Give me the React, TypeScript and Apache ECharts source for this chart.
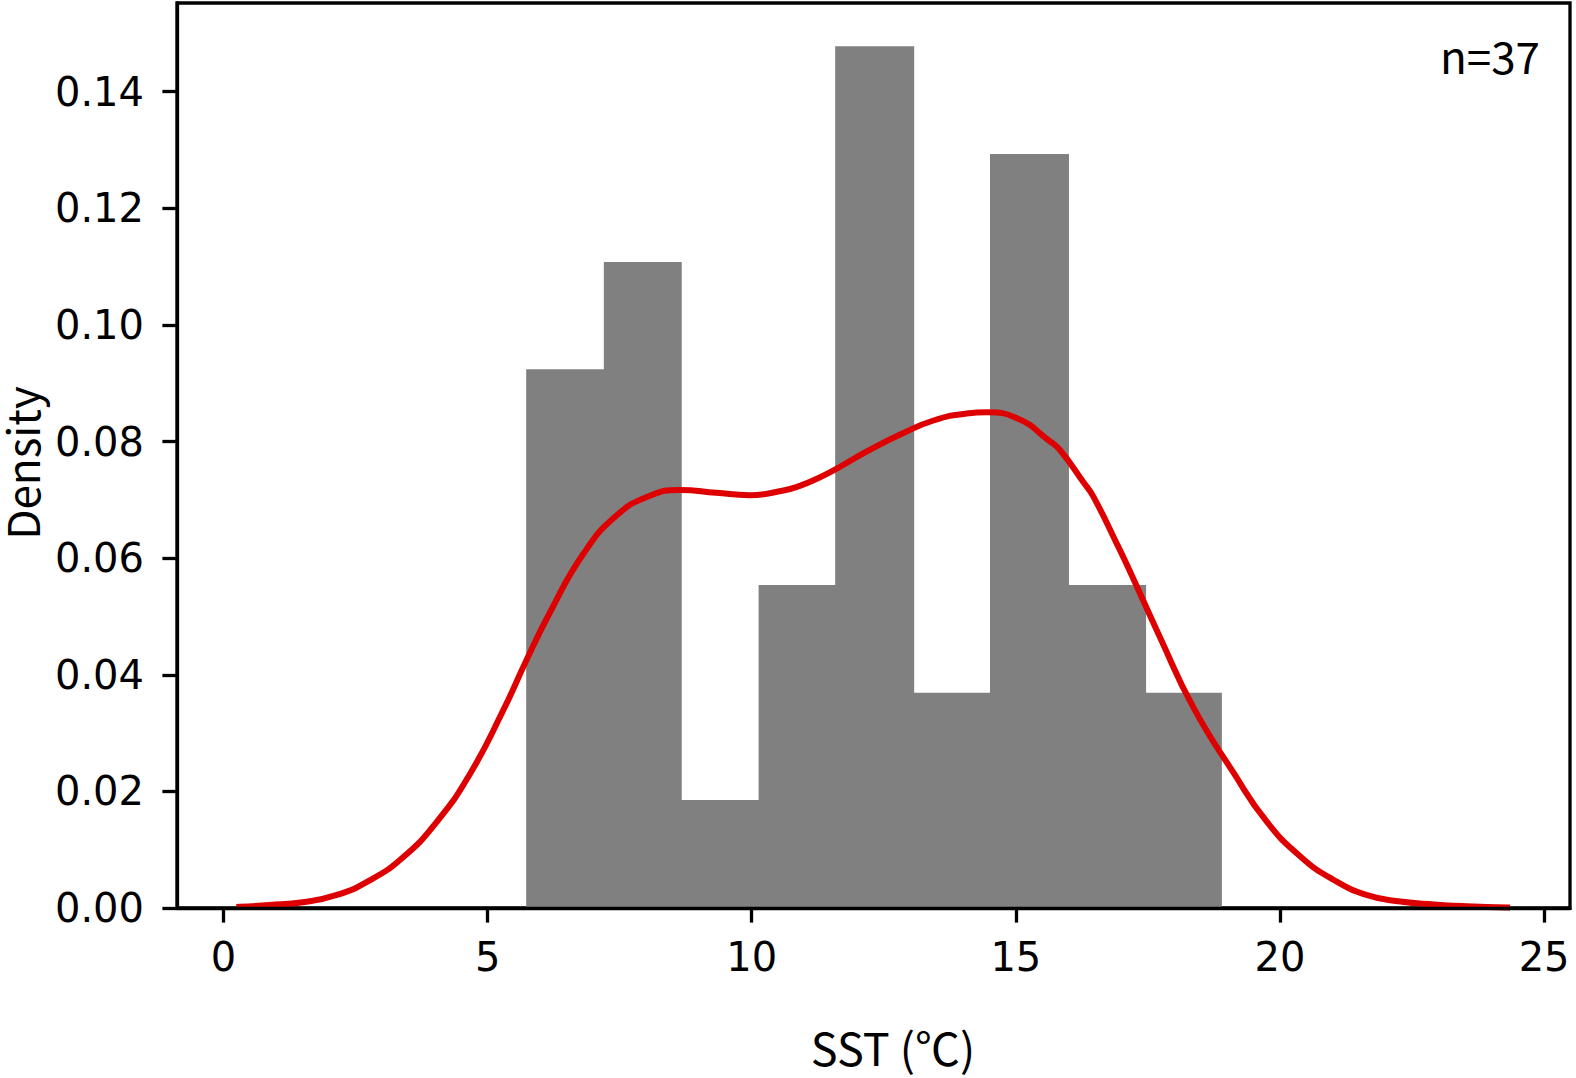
import React, { useEffect, useRef } from "react";
import * as echarts from "echarts";

// Histogram bin edges (SST, °C) and bar heights (density)
const binEdges = [5.73, 7.2, 8.66, 10.13, 11.58, 13.06, 14.51, 15.99, 17.45, 18.9];
const binDensity = [0.0924, 0.1108, 0.0185, 0.0554, 0.1478, 0.0369, 0.1293, 0.0554, 0.0369];

// KDE curve
const kdeX = [
  0.3, 0.87, 1.5, 2.13, 2.76, 3.4, 4.03, 4.66, 5.29, 5.73, 6.17, 6.81, 7.44, 8.07, 8.64,
  9.33, 9.96, 10.6, 10.91, 11.23, 11.54, 12.18, 12.81, 13.44, 14.07, 14.45, 15.02, 15.65,
  15.84, 16.28, 16.47, 16.91, 17.1, 17.73, 18.36, 19.12, 19.75, 20.39, 21.02, 21.65, 22.28,
  22.91, 23.54, 24.3,
];
const kdeY = [
  0.0002, 0.0005, 0.001, 0.0022, 0.0047, 0.0087, 0.0147, 0.0229, 0.0338, 0.0424, 0.0505,
  0.0607, 0.0673, 0.0707, 0.0717, 0.0712, 0.0708, 0.0716, 0.0724, 0.0736, 0.075, 0.0783,
  0.0812, 0.0836, 0.0848, 0.085, 0.084, 0.08, 0.0785, 0.073, 0.0705, 0.0625, 0.0589, 0.0464,
  0.0344, 0.0232, 0.0148, 0.0088, 0.0048, 0.0022, 0.0011, 0.0006, 0.0003, 0.0001,
];

const xTicks = [0, 5, 10, 15, 20, 25];
const yTicks = [0, 0.02, 0.04, 0.06, 0.08, 0.1, 0.12, 0.14];

const xLabel = "SST (℃)";
const yLabel = "Density";
const nLabel = "n=37";

const LABEL_FONT = "'Noto Sans CJK SC', 'Noto Sans', sans-serif";
const TICK_FONT = "'DejaVu Sans', sans-serif";

export default function App() {
  const ref = useRef<HTMLDivElement>(null);

  useEffect(() => {
    document.body.style.margin = "0";
    if (!ref.current) return;
    const chart = echarts.init(ref.current, null, { renderer: "svg" });

    const bars = binDensity.map((h, i) => [binEdges[i], binEdges[i + 1], h]);
    const kde = kdeX.map((x, i) => [x, kdeY[i]]);

    const axisCommon = {
      z: 10,
      splitLine: { show: false },
      axisLine: { show: true, onZero: false, lineStyle: { color: "#000", width: 3.3 } },
    };

    chart.setOption({
      animation: false,
      grid: {
        left: 177,
        right: 6,
        top: 3,
        bottom: 170,
        show: true,
        borderColor: "#000",
        borderWidth: 3.3,
        backgroundColor: "transparent",
      },
      xAxis: {
        ...axisCommon,
        type: "value",
        min: -0.88,
        max: 25.49,
        axisTick: {
          show: true,
          length: 14.6,
          customValues: xTicks,
          lineStyle: { color: "#000", width: 3.3 },
        },
        axisLabel: {
          customValues: xTicks,
          margin: 29,
          color: "#000",
          fontFamily: TICK_FONT,
          fontSize: 40,
          formatter: (v: number) => String(v),
        },
      },
      yAxis: {
        ...axisCommon,
        type: "value",
        min: 0,
        max: 0.1552,
        axisTick: {
          show: true,
          length: 14.6,
          customValues: yTicks,
          lineStyle: { color: "#000", width: 3.3 },
        },
        axisLabel: {
          customValues: yTicks,
          margin: 33,
          color: "#000",
          fontFamily: TICK_FONT,
          fontSize: 40,
          formatter: (v: number) => v.toFixed(2),
        },
      },
      series: [
        {
          type: "custom",
          z: 1,
          data: bars,
          encode: { x: [0, 1], y: 2 },
          renderItem: (params: any, api: any) => {
            const p0 = api.coord([api.value(0), api.value(2)]);
            const p1 = api.coord([api.value(1), 0]);
            const last = params.dataIndex === bars.length - 1;
            return {
              type: "rect",
              shape: {
                x: p0[0],
                y: p0[1],
                width: p1[0] - p0[0] + (last ? 0 : 0.8),
                height: p1[1] - p0[1],
              },
              style: { fill: "#808080" },
            };
          },
        },
        {
          type: "line",
          z: 3,
          data: kde,
          smooth: 0.5,
          showSymbol: false,
          symbol: "none",
          lineStyle: { color: "#de0000", width: 6, cap: "square" },
        },
      ],
      graphic: [
        {
          type: "text",
          x: 1540,
          y: 55,
          style: {
            text: nLabel,
            fill: "#000",
            font: `44px ${LABEL_FONT}`,
            align: "right",
            verticalAlign: "middle",
            textAlign: "right",
            textVerticalAlign: "middle",
          },
        },
        {
          type: "text",
          x: 893,
          y: 1046,
          style: {
            text: xLabel,
            fill: "#000",
            font: `45px ${LABEL_FONT}`,
            lineHeight: 46,
            align: "center",
            verticalAlign: "middle",
            textAlign: "center",
            textVerticalAlign: "middle",
          },
        },
        {
          type: "text",
          x: 21,
          y: 463,
          rotation: Math.PI / 2,
          style: {
            text: yLabel,
            fill: "#000",
            font: `44px ${LABEL_FONT}`,
            lineHeight: 38,
            align: "center",
            verticalAlign: "middle",
            textAlign: "center",
            textVerticalAlign: "middle",
          },
        },
      ],
    });

    return () => chart.dispose();
  }, []);

  return (
    <div
      ref={ref}
      style={{ position: "absolute", left: 0, top: 0, width: 1576, height: 1078, background: "#fff" }}
    />
  );
}
